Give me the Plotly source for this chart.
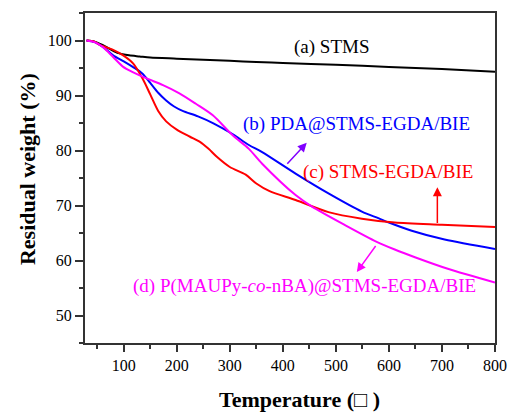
import plotly.graph_objects as go

# (a) STMS
temp_a = [30, 45, 60, 75, 90, 110, 130, 150, 200, 250, 300, 350, 400, 500, 600, 700, 800]
wt_a = [100, 99.8, 99.2, 98.4, 97.7, 97.3, 97.1, 96.9, 96.7, 96.5, 96.3, 96.1, 95.9, 95.6, 95.2, 94.8, 94.3]

# (b) PDA@STMS-EGDA/BIE
temp_b = [30, 45, 60, 80, 100, 117, 135, 150, 165, 180, 195, 211, 240, 270, 305, 336, 361,
          424, 486, 549, 580, 600, 643, 705, 800]
wt_b = [100, 99.7, 98.9, 97.3, 96.2, 95.2, 94.0, 92.3, 90.5, 89.1, 88.0, 87.2, 86.2, 84.9, 83.0, 81.0, 79.7,
        75.8, 72.2, 68.9, 67.7, 66.9, 65.4, 63.8, 62.1]

# (c) STMS-EGDA/BIE
temp_c = [30, 45, 55, 80, 99, 118, 136, 150, 165, 180, 200, 225, 243, 260, 275, 300, 330, 350, 375,
          424, 486, 549, 611, 700, 800]
wt_c = [100, 99.8, 99.2, 98.3, 97.3, 95.8, 93.0, 90.2, 87.2, 85.3, 83.8, 82.5, 81.6, 80.3, 78.9, 77.0, 75.6, 74.0, 72.6,
        71.0, 68.8, 67.6, 66.9, 66.5, 66.1]

# (d) P(MAUPy-co-nBA)@STMS-EGDA/BIE
temp_d = [30, 45, 61, 80, 99, 118, 143, 174, 205, 236, 268, 305, 336, 361, 424, 455, 518, 577, 611,
          649, 711, 800]
wt_d = [100, 99.7, 98.8, 97.0, 95.2, 94.2, 93.1, 91.9, 90.4, 88.5, 86.4, 82.8, 80.3, 77.6, 71.9, 69.8, 66.4, 63.4, 62.0,
        60.6, 58.5, 56.0]

labels = ["(a) STMS", "(b) PDA@STMS-EGDA/BIE", "(c) STMS-EGDA/BIE",
          "(d) P(MAUPy-<i>co</i>-nBA)@STMS-EGDA/BIE"]
colors = ["#000000", "#0000ff", "#ff0000", "#ff00ff"]
x_title = "<b>Temperature (□ )</b>"
y_title = "<b>Residual weight (%)</b>"

FONT = "'Liberation Serif', 'Times New Roman', serif"

fig = go.Figure()
for t, w, c in [(temp_a, wt_a, colors[0]), (temp_b, wt_b, colors[1]),
                (temp_c, wt_c, colors[2]), (temp_d, wt_d, colors[3])]:
    fig.add_trace(go.Scatter(x=t, y=w, mode="lines", line=dict(color=c, width=2, shape="spline", smoothing=0.8),
                             showlegend=False, hoverinfo="skip"))

# text labels
text_pos = [(491, 98.8), (539, 84.8), (599, 76.1), (441, 55.3)]
for (x, y), txt, c in zip(text_pos, labels, colors):
    fig.add_annotation(x=x, y=y, text=txt, showarrow=False, xref="x", yref="y",
                       font=dict(family=FONT, size=19, color=c))

# arrows
arrows = [((445, 81.4), (405.8, 77.3), "#8000ff"),
          ((691.3, 73.3), (691.3, 66.55), "#ff0000"),
          ((539.5, 57.9), (577, 62.9), "#ff00ff")]
for (hx, hy), (tx, ty), c in arrows:
    fig.add_annotation(x=hx, y=hy, ax=tx, ay=ty, xref="x", yref="y", axref="x", ayref="y",
                       text="", showarrow=True, arrowhead=2, arrowsize=1.2, arrowwidth=1.5, arrowcolor=c)

# axis titles
fig.add_annotation(x=0.523, y=-0.170, xref="paper", yref="paper", text=x_title, showarrow=False,
                   xanchor="center", yanchor="middle", font=dict(family=FONT, size=22, color="#000"))
fig.add_annotation(x=-0.1415, y=0.527, xref="paper", yref="paper", text=y_title, showarrow=False,
                   textangle=-90, xanchor="center", yanchor="middle", font=dict(family=FONT, size=22, color="#000"))

fig.update_layout(
    width=509, height=412,
    margin=dict(l=85, r=14, t=13, b=69, autoexpand=False),
    paper_bgcolor="white", plot_bgcolor="white",
    font=dict(family=FONT, size=16, color="#000"),
    hovermode=False,
)
fig.update_xaxes(
    range=[27, 800], tick0=0, dtick=100, ticks="outside", ticklen=7, tickwidth=1.5, tickcolor="#333",
    minor=dict(dtick=50, tick0=0, ticks="outside", ticklen=4, tickcolor="#333", tickwidth=1.5),
    showline=True, linecolor="#333", linewidth=2, mirror=True, showgrid=False, zeroline=False,
    automargin=False,
    tickfont=dict(family=FONT, size=16, color="#000"),
)
fig.update_yaxes(
    range=[45, 105], tick0=0, dtick=10, ticks="outside", ticklen=8, tickwidth=1.5, tickcolor="#333",
    minor=dict(dtick=5, tick0=0, ticks="outside", ticklen=4, tickcolor="#333", tickwidth=1.5),
    showline=True, linecolor="#333", linewidth=2, mirror=True, showgrid=False, zeroline=False,
    automargin=False,
    tickfont=dict(family=FONT, size=16, color="#000"),
)

fig.write_html(
    "out.html",
    config={"displayModeBar": False},
    post_script="document.body.style.margin='0';document.body.style.overflow='hidden';",
)
